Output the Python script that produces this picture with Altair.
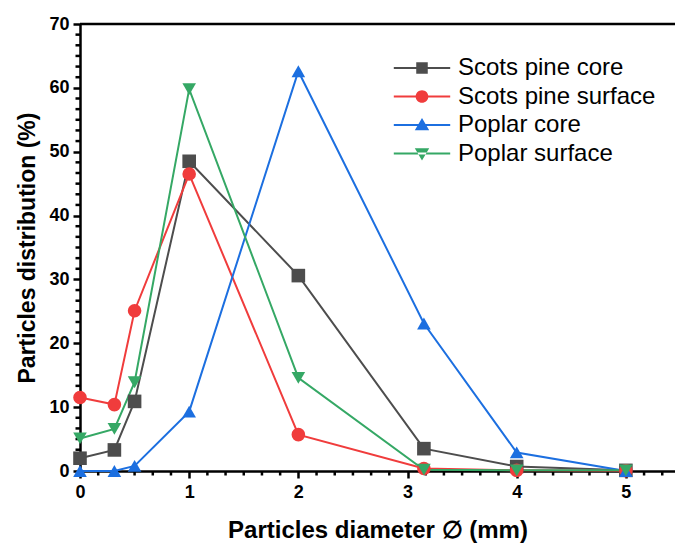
import altair as alt
import pandas as pd

# Particle diameter classes (mm), sieve sizes
diameters = [0, 0.315, 0.5, 1, 2, 3.15, 4, 5]

series_names = ["Scots pine core", "Scots pine surface", "Poplar core", "Poplar surface"]
scots_core = [2.0, 3.3, 10.9, 48.5, 30.6, 3.5, 0.7, 0.1]
scots_surface = [11.5, 10.4, 25.1, 46.5, 5.7, 0.4, 0.1, 0.05]
poplar_core = [0.0, 0.0, 0.8, 9.3, 62.6, 23.1, 2.9, 0.0]
poplar_surface = [5.1, 6.6, 13.9, 59.8, 14.6, 0.2, 0.1, 0.1]

colors = ["#4d4d4d", "#f03c3c", "#1c6fe0", "#35a865"]
shapes = ["square", "circle", "triangle-up", "triangle-down"]

rows = []
for name, vals in zip(series_names, [scots_core, scots_surface, poplar_core, poplar_surface]):
    for d, v in zip(diameters, vals):
        rows.append({"diameter": d, "share": v, "series": name})
df = pd.DataFrame(rows)

FONT = "Liberation Sans"
X_MAX = 5.45
W, H = 595, 447

x_scale = alt.Scale(domain=[0, X_MAX], nice=False, zero=False)
y_scale = alt.Scale(domain=[0, 70], nice=False)

color_scale = alt.Scale(domain=series_names, range=colors)
shape_scale = alt.Scale(domain=series_names, range=shapes)

# legend glyphs: a thin bar (the line) with the series marker in the middle
bar = "M-2.35,-0.085H2.35V0.085H-2.35Z"
legend_paths = [
    bar + "M-0.48,-0.48H0.48V0.48H-0.48Z",
    bar + "M0.53,0A0.53,0.53 0 1,1 -0.53,0A0.53,0.53 0 1,1 0.53,0Z",
    bar + "M0,-0.58L0.6,0.44L-0.6,0.44Z",
    bar + "M0,0.58L0.6,-0.44L-0.6,-0.44Z",
]
legend_shape_scale = alt.Scale(domain=series_names, range=legend_paths)

legend = alt.Legend(
    title=None,
    orient="none",
    legendX=330,
    legendY=32,
    padding=0,
    symbolSize=576,
    symbolStrokeWidth=0,
    symbolOpacity=1,
    labelFont=FONT,
    labelFontSize=24,
    labelColor="black",
    labelOffset=24,
    labelLimit=400,
    rowPadding=4.5,
)

base = alt.Chart(df)

main_x_axis = alt.Axis(
    values=[0, 1, 2, 3, 4, 5], format="d", tickSize=7, tickWidth=2.5, domainWidth=2.5,
    domainColor="black", tickColor="black", labelFont=FONT, labelFontSize=18,
    labelFontWeight="bold", labelColor="black", labelPadding=5, labelFlush=False,
    grid=False, title="Particles diameter ∅ (mm)", titleFont=FONT, titleFontSize=24,
    titleFontWeight="bold", titleColor="black", titlePadding=17,
)
main_y_axis = alt.Axis(
    values=list(range(0, 71, 10)), tickSize=7, tickWidth=2.5, domainWidth=2.5,
    domainColor="black", tickColor="black", labelFont=FONT, labelFontSize=18,
    labelFontWeight="bold", labelColor="black", labelPadding=4, labelFlush=False,
    grid=False, title="Particles distribution (%)", titleFont=FONT, titleFontSize=23,
    titleFontWeight="bold", titleColor="black", titlePadding=9,
)

lines = base.mark_line(strokeWidth=2).encode(
    x=alt.X("diameter:Q", scale=x_scale, axis=main_x_axis),
    y=alt.Y("share:Q", scale=y_scale, axis=main_y_axis),
    color=alt.Color("series:N", scale=color_scale, legend=None, sort=series_names),
    order=alt.Order("diameter:Q"),
)

points = base.mark_point(filled=True, size=185, opacity=1).encode(
    x="diameter:Q",
    y="share:Q",
    color=alt.Color("series:N", scale=color_scale, legend=None),
    shape=alt.Shape("series:N", scale=shape_scale, legend=None),
)

# invisible layer that only feeds the legend (line + marker glyphs)
legend_layer = base.mark_point(opacity=0, filled=True).encode(
    x="diameter:Q",
    y="share:Q",
    color=alt.Color("series:N", scale=color_scale, legend=legend, sort=series_names),
    shape=alt.Shape("series:N", scale=legend_shape_scale, legend=legend, sort=series_names),
)

# minor ticks: five between each pair of major ticks
x_minor = [round(k + i / 6, 4) for k in range(6) for i in range(1, 6) if k + i / 6 < X_MAX]
y_minor = [round(k * 10 + i * 10 / 6, 4) for k in range(7) for i in range(1, 6)]

x_minor_ticks = alt.Chart(pd.DataFrame({"diameter": x_minor})).mark_rule(
    color="black", strokeWidth=2.5
).encode(x="diameter:Q", y=alt.value(H), y2=alt.value(H + 4.5))

y_minor_ticks = alt.Chart(pd.DataFrame({"share": y_minor})).mark_rule(
    color="black", strokeWidth=2.5
).encode(y="share:Q", x=alt.value(0), x2=alt.value(-4.5))

# top border line
top_line = alt.Chart(pd.DataFrame({"share": [70]})).mark_rule(
    color="black", strokeWidth=2.5
).encode(y="share:Q", x=alt.value(0), x2=alt.value(W))

chart = (
    alt.layer(x_minor_ticks, y_minor_ticks, top_line, lines, legend_layer, points)
    .resolve_scale(color="independent", shape="independent")
    .properties(
        width=W,
        height=H,
        autosize=alt.AutoSizeParams(type="none"),
        padding={"left": 80, "top": 24, "right": 0, "bottom": 72},
    )
    .configure_view(stroke=None)
    .configure(background="white")
)

chart.save("out.html", embed_options={"renderer": "svg", "actions": False})
